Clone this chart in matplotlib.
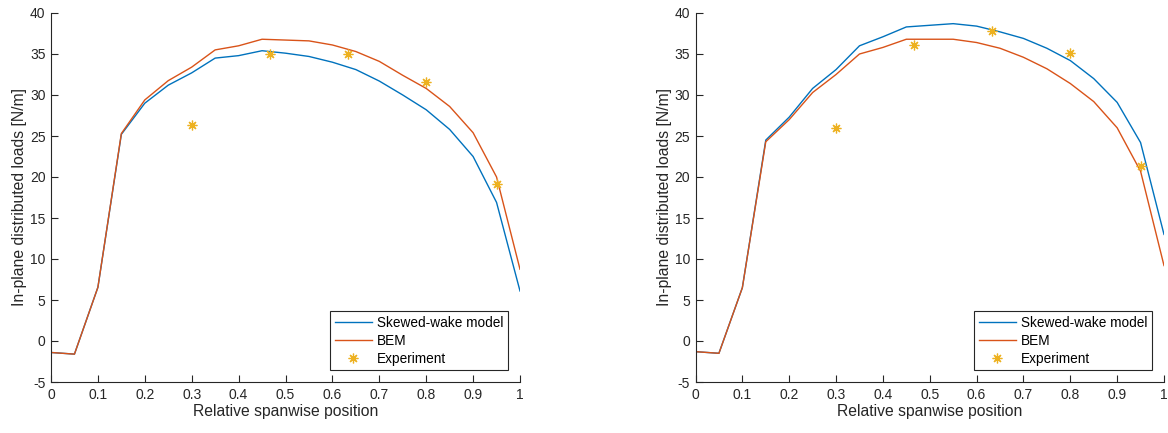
import numpy as np
import matplotlib
matplotlib.use("Agg")
import matplotlib.pyplot as plt

plt.rcParams['font.family'] = ['Liberation Sans', 'DejaVu Sans']
plt.rcParams['axes.unicode_minus'] = False

span = [0, 0.05, 0.1, 0.15, 0.2, 0.25, 0.3, 0.35, 0.4, 0.45, 0.5,
        0.55, 0.6, 0.65, 0.7, 0.75, 0.8, 0.85, 0.9, 0.95, 1.0]

# left panel
skewed_left = [-1.4, -1.6, 6.55, 25.2, 29.0, 31.2, 32.7, 34.5, 34.8, 35.4, 35.1,
               34.7, 34.0, 33.1, 31.7, 30.0, 28.2, 25.8, 22.5, 16.9, 6.1]
bem_left = [-1.4, -1.6, 6.55, 25.3, 29.4, 31.75, 33.4, 35.5, 36.0, 36.8, 36.7,
            36.6, 36.1, 35.3, 34.1, 32.4, 30.8, 28.6, 25.4, 20.0, 8.75]
exp_x = [0.3, 0.467, 0.633, 0.8, 0.95]
exp_left = [26.3, 35.0, 35.0, 31.55, 19.1]

# right panel
skewed_right = [-1.3, -1.5, 6.5, 24.5, 27.3, 30.8, 33.1, 36.0, 37.1, 38.3, 38.5,
                38.7, 38.4, 37.7, 36.9, 35.7, 34.2, 32.0, 29.1, 24.2, 13.0]
bem_right = [-1.3, -1.5, 6.5, 24.3, 27.0, 30.3, 32.5, 35.0, 35.8, 36.8, 36.8,
             36.8, 36.4, 35.7, 34.6, 33.2, 31.4, 29.2, 26.0, 20.7, 9.2]
exp_right = [25.95, 36.15, 37.85, 35.1, 21.35]

xticks = [0, 0.1, 0.2, 0.3, 0.4, 0.5, 0.6, 0.7, 0.8, 0.9, 1]
xticklabels = ['0', '0.1', '0.2', '0.3', '0.4', '0.5', '0.6', '0.7', '0.8', '0.9', '1']
yticks = [-5, 0, 5, 10, 15, 20, 25, 30, 35, 40]

blue = '#0072BD'
red = '#D95319'
yellow = '#EDB120'
dark = '#262626'

fig = plt.figure(figsize=(11.68, 4.33), dpi=100)
ax1 = fig.add_axes([51 / 1168, 1 - 382 / 433, 469 / 1168, 369 / 433])
ax2 = fig.add_axes([695.5 / 1168, 1 - 382 / 433, 468.5 / 1168, 369 / 433])

for ax, sk, bm, ex in [(ax1, skewed_left, bem_left, exp_left),
                       (ax2, skewed_right, bem_right, exp_right)]:
    ax.plot(span, sk, color=blue, lw=1.0, label='Skewed-wake model')
    ax.plot(span, bm, color=red, lw=1.0, label='BEM')
    ax.plot(exp_x, ex, ls='none', marker=(8, 2, 0), ms=7, mew=0.9,
            color=yellow, label='Experiment')
    ax.set_xlim(0, 1)
    ax.set_ylim(-5, 40)
    ax.set_xticks(xticks)
    ax.set_xticklabels(xticklabels)
    ax.set_yticks(yticks)
    ax.spines['top'].set_visible(False)
    ax.spines['right'].set_visible(False)
    for s in ['left', 'bottom']:
        ax.spines[s].set_color(dark)
        ax.spines[s].set_linewidth(0.8)
    ax.tick_params(direction='in', length=5, width=0.8, colors=dark,
                   labelsize=10, labelcolor=dark, pad=4)
    ax.set_xlabel('Relative spanwise position', fontsize=11.3, color=dark, labelpad=2)
    ax.set_ylabel('In-plane distributed loads [N/m]', fontsize=11.3, color=dark, labelpad=2)
    leg = ax.legend(loc='lower right', fontsize=9.8, fancybox=False,
                    framealpha=1, edgecolor=dark, borderaxespad=0.85,
                    handlelength=2.7, handletextpad=0.4, labelspacing=0.28,
                    borderpad=0.35)
    leg.get_frame().set_linewidth(0.8)

fig.savefig('out.png', dpi=100)
